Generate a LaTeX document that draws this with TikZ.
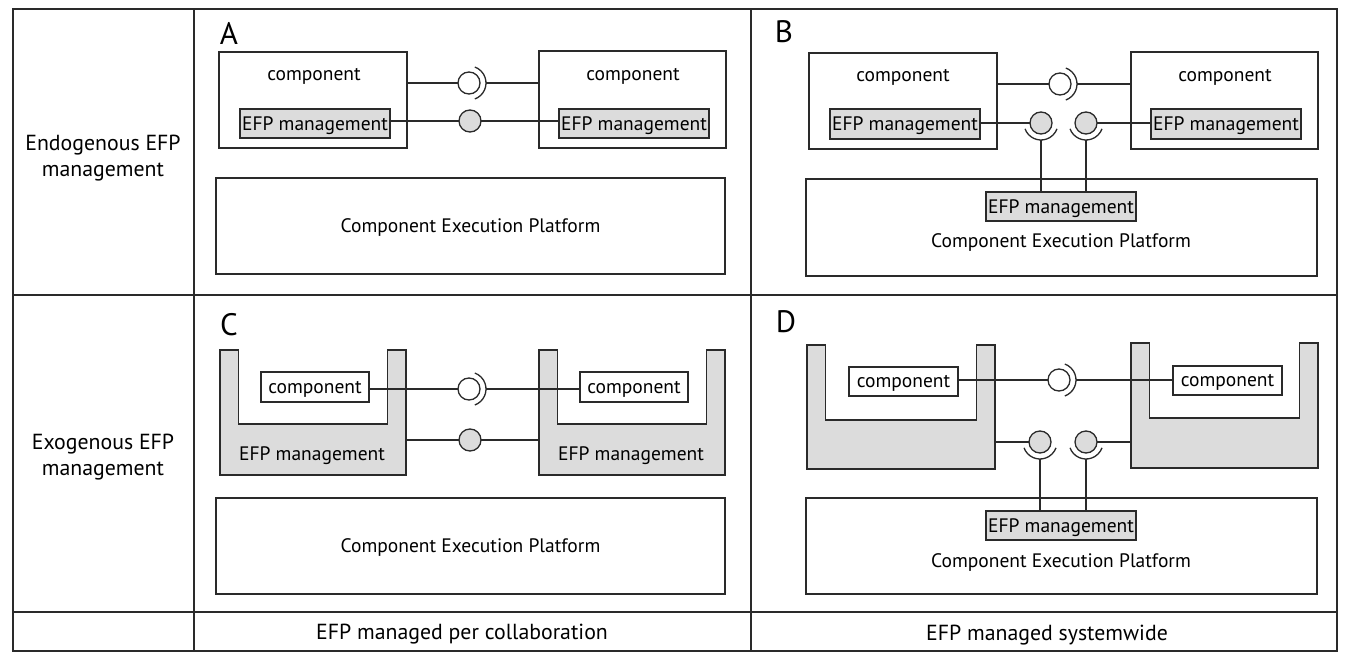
\documentclass[tikz,border=0pt]{standalone}
\usepackage{fontspec}
\setmainfont{PT Sans}
\definecolor{linec}{HTML}{2A2A2A}
\definecolor{grayf}{HTML}{DCDCDC}
\newcommand{\tf}{\fontsize{19.5}{26}\selectfont}
\newcommand{\gf}{\fontsize{21.8}{26}\selectfont}
\newcommand{\mkbox}[7][box]{%
  \node[#1, minimum width={(#5-#3)*1pt}, minimum height={(#6-#4)*1pt}] (#2) at ({(#3+#5)/2},{(#4+#6)/2}) {#7};}
\newcommand{\mkU}[6]{%
  \node[inner sep=0pt, outer sep=0pt, minimum width={(#4-#2)*1pt}, minimum height={(#5-#3)*1pt}] (#1) at ({(#2+#4)/2},{(#3+#5)/2}) {};
  \draw[ushp] (#2,#3) -- (#2,#5) -- (#4,#5) -- (#4,#3) -- ({#4-18.5},#3) -- ({#4-18.5},#6) -- ({#2+18.5},#6) -- ({#2+18.5},#3) -- cycle;}
\tikzset{
  box/.style={draw=linec, line width=1.3pt, rectangle, inner sep=0pt, outer sep=0pt, fill=white, font=\tf, text=black, text depth=0pt},
  efp/.style={box, fill=grayf},
  ushp/.style={draw=linec, line width=1.3pt, fill=grayf},
  ball/.style={circle, draw=linec, line width=1.3pt, fill=white, minimum size=22pt, inner sep=0pt, outer sep=0pt},
  gball/.style={ball, fill=grayf},
  conn/.style={draw=linec, line width=1.3pt},
  txt/.style={font=\tf, text=black, inner sep=0pt, align=center, text depth=0pt},
  gtxt/.style={font=\gf, text=black, inner sep=0pt, align=center, text depth=0pt},
  plabel/.style={font=\fontsize{31}{31}\selectfont, text=black, inner sep=0pt},
  grid/.style={draw=linec, line width=1.3pt}
}
\begin{document}
\begin{tikzpicture}[x=1pt,y=-1pt]
\useasboundingbox[fill=white] (0,0) rectangle (1346,666);
% table grid
\draw[grid] (13,9) rectangle (1337,651);
\draw[grid] (194,9) -- (194,651);
\draw[grid] (751,9) -- (751,651);
\draw[grid] (13,295) -- (1337,295);
\draw[grid] (13,612) -- (1337,612);
\node[gtxt] (endo) at (103,156) {Endogenous EFP\\management};
\node[gtxt] (exo) at (103,455) {Exogenous EFP\\management};
\node[gtxt] (collab) at (462,632) {EFP managed per collaboration};
\node[gtxt] (sysw) at (1047,633) {EFP managed systemwide};

% ---------------- Panel A
\node[plabel] (Alab) at (229,33) {A};
\mkbox{Acl}{219}{52}{407}{148}{}
\node[txt] (Acltx) at (314,74) {component};
\mkbox[efp]{Ael}{240}{109}{390}{138}{EFP management}
\mkbox{Acr}{539}{51}{726}{148}{}
\node[txt] (Acrtx) at (633,74) {component};
\mkbox[efp]{Aer}{559}{109}{709}{138}{EFP management}
\node[ball] (Ab1) at (469,83) {};
\draw[conn] (Acl.east |- Ab1) -- (Ab1);
\draw[conn] ([shift={(-70:17pt)}]Ab1.center) arc[start angle=-70, end angle=70, radius=17pt];
\draw[conn] ([xshift=17pt]Ab1.center) -- (Ab1 -| Acr.west);
\node[gball] (Ab2) at (470,121) {};
\draw[conn] (Ael.east |- Ab2) -- (Ab2) -- (Ab2 -| Aer.west);
\mkbox{Ap}{216}{178}{725}{274}{Component Execution Platform}

% ---------------- Panel B
\node[plabel] (Blab) at (784,32) {B};
\mkbox{Bcl}{809}{53}{997}{149}{}
\node[txt] (Bcltx) at (903,75) {component};
\mkbox[efp]{Bel}{830}{109}{980}{139}{EFP management}
\mkbox{Bcr}{1131}{52}{1318}{149}{}
\node[txt] (Bcrtx) at (1225,75) {component};
\mkbox[efp]{Ber}{1151}{109}{1301}{139}{EFP management}
\node[ball] (Bb1) at (1060,84) {};
\draw[conn] (Bcl.east |- Bb1) -- (Bb1);
\draw[conn] ([shift={(-70:17pt)}]Bb1.center) arc[start angle=-70, end angle=70, radius=17pt];
\draw[conn] ([xshift=17pt]Bb1.center) -- (Bb1 -| Bcr.west);
\mkbox{Bp}{806}{179}{1317}{276}{}
\mkbox[efp]{Bpe}{986}{192}{1136}{221}{EFP management}
\node[txt] (Bptx) at (1061,241) {Component Execution Platform};
\node[gball] (Bb2) at (1041,123) {};
\node[gball] (Bb3) at (1086,123) {};
\draw[conn] (Bel.east |- Bb2) -- (Bb2);
\draw[conn] (Bb3) -- (Bb3 -| Ber.west);
\draw[conn] ([shift={(200:17pt)}]Bb2.center) arc[start angle=200, end angle=340, radius=17pt];
\draw[conn] ([shift={(200:17pt)}]Bb3.center) arc[start angle=200, end angle=340, radius=17pt];
\draw[conn] ([yshift=-17pt]Bb2.center) -- (Bb2 |- Bpe.north);
\draw[conn] ([yshift=-17pt]Bb3.center) -- (Bb3 |- Bpe.north);

% ---------------- Panel C
\node[plabel] (Clab) at (229,325) {C};
\mkU{CUL}{220}{350}{406}{475}{424}
\mkU{CUR}{539}{350}{725}{475}{424}
\mkbox{Ccl}{261}{372}{369}{402}{component}
\mkbox{Ccr}{580}{372}{688}{402}{component}
\node[txt] (Cltx) at (312,454) {EFP management};
\node[txt] (Crtx) at (631,454) {EFP management};
\node[ball] (Cb1) at (469,389) {};
\draw[conn] (Ccl.east |- Cb1) -- (Cb1);
\draw[conn] ([shift={(-70:17pt)}]Cb1.center) arc[start angle=-70, end angle=70, radius=17pt];
\draw[conn] ([xshift=17pt]Cb1.center) -- (Cb1 -| Ccr.west);
\node[gball] (Cb2) at (470,440) {};
\draw[conn] (CUL.east |- Cb2) -- (Cb2) -- (Cb2 -| CUR.west);
\mkbox{Cp}{216}{498}{725}{594}{Component Execution Platform}

% ---------------- Panel D
\node[plabel] (Dlab) at (786,322) {D};
\mkU{DUL}{807}{345}{995}{469}{420}
\mkU{DUR}{1131}{343}{1318}{468}{418}
\mkbox{Dcl}{849}{367}{958}{396}{component}
\mkbox{Dcr}{1173}{366}{1282}{395}{component}
\node[ball] (Db1) at (1059,380) {};
\draw[conn] (Dcl.east |- Db1) -- (Db1);
\draw[conn] ([shift={(-70:17pt)}]Db1.center) arc[start angle=-70, end angle=70, radius=17pt];
\draw[conn] ([xshift=17pt]Db1.center) -- (Db1 -| Dcr.west);
\mkbox{Dp}{806}{498}{1317}{594}{}
\mkbox[efp]{Dpe}{986}{511}{1136}{540}{EFP management}
\node[txt] (Dptx) at (1061,561) {Component Execution Platform};
\node[gball] (Db2) at (1040,442) {};
\node[gball] (Db3) at (1086,442) {};
\draw[conn] (DUL.east |- Db2) -- (Db2);
\draw[conn] (Db3) -- (Db3 -| DUR.west);
\draw[conn] ([shift={(200:17pt)}]Db2.center) arc[start angle=200, end angle=340, radius=17pt];
\draw[conn] ([shift={(200:17pt)}]Db3.center) arc[start angle=200, end angle=340, radius=17pt];
\draw[conn] ([yshift=-17pt]Db2.center) -- (Db2 |- Dpe.north);
\draw[conn] ([yshift=-17pt]Db3.center) -- (Db3 |- Dpe.north);
\end{tikzpicture}
\end{document}
